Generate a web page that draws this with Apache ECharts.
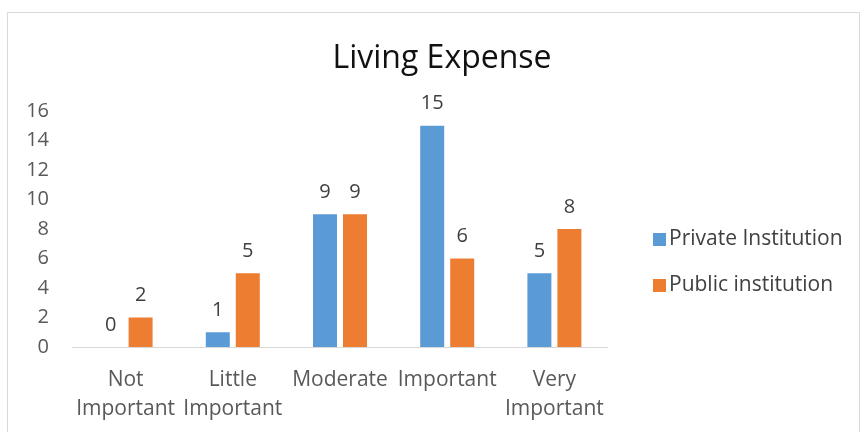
<!DOCTYPE html>
<html>
<head>
<meta charset="utf-8">
<script src="https://cdn.jsdelivr.net/npm/echarts@6/dist/echarts.min.js"></script>
<style>
  html, body { margin: 0; padding: 0; background: #fff; }
  #chart { width: 861px; height: 432px; }
</style>
</head>
<body>
<div id="chart"></div>
<script>
// Survey categories and response counts
const categories = ['Not\nImportant', 'Little\nImportant', 'Moderate', 'Important', 'Very\nImportant'];
const privateInstitution = [0, 1, 9, 15, 5];
const publicInstitution = [2, 5, 9, 6, 8];
const yTicks = { min: 0, max: 16, interval: 2 };

const FONT = '"Open Sans", "Noto Sans", sans-serif';
const chart = echarts.init(document.getElementById('chart'), null, { renderer: 'canvas' });

const labelStyle = {
  show: true,
  position: 'top',
  distance: 12,
  color: '#404040',
  fontSize: 20,
  fontFamily: FONT
};

chart.setOption({
  animation: false,
  backgroundColor: '#ffffff',
  graphic: [{
    type: 'rect',
    shape: { x: 7.5, y: 12.5, width: 852, height: 430 },
    style: { fill: 'none', stroke: '#d9d9d9', lineWidth: 1 },
    silent: true
  }],
  title: {
    text: 'Living Expense',
    left: 437,
    textAlign: 'center',
    top: 38,
    textStyle: { color: '#111111', fontSize: 32, fontWeight: 'normal', fontFamily: FONT }
  },
  legend: {
    orient: 'vertical',
    left: 648,
    top: 224,
    itemWidth: 13,
    itemHeight: 13,
    itemGap: 25,
    icon: 'rect',
    textStyle: { color: '#404040', fontSize: 21, fontFamily: FONT, padding: [0, 0, 0, -2] },
    data: ['Private Institution', 'Public institution']
  },
  grid: { left: 72, right: 253, top: 111, bottom: 85, containLabel: false },
  xAxis: {
    type: 'category',
    data: categories,
    axisLine: { show: true, lineStyle: { color: '#d9d9d9', width: 1 } },
    axisTick: { show: false },
    axisLabel: {
      color: '#595959',
      fontSize: 21,
      fontFamily: FONT,
      lineHeight: 29,
      margin: 19,
      interval: 0
    }
  },
  yAxis: {
    type: 'value',
    min: yTicks.min,
    max: yTicks.max,
    interval: yTicks.interval,
    splitLine: { show: false },
    axisLine: { show: false },
    axisTick: { show: false },
    axisLabel: { color: '#595959', fontSize: 20, fontFamily: FONT, margin: 23 }
  },
  series: [
    {
      name: 'Private Institution',
      type: 'bar',
      data: privateInstitution,
      barWidth: 24,
      barGap: '25%',
      itemStyle: { color: '#5b9bd5' },
      label: labelStyle
    },
    {
      name: 'Public institution',
      type: 'bar',
      data: publicInstitution,
      barWidth: 24,
      barGap: '25%',
      itemStyle: { color: '#ed7d31' },
      label: labelStyle
    }
  ]
});
</script>
</body>
</html>
